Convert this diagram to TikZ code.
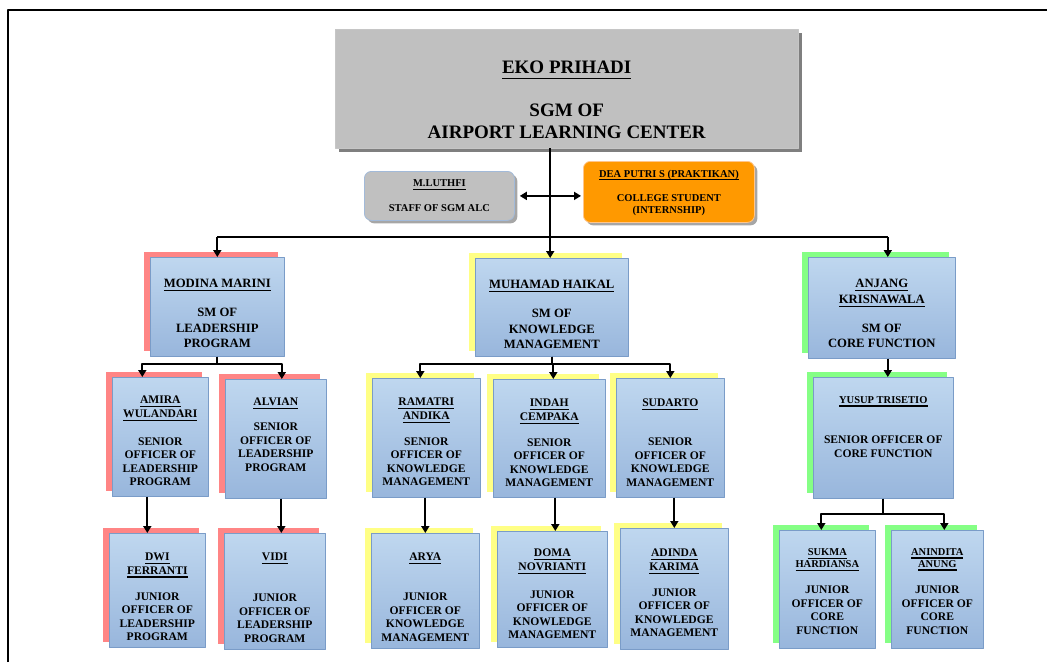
\documentclass[tikz,border=0pt]{standalone}
\usepackage{fontspec}
\setmainfont{Liberation Serif}
\usetikzlibrary{arrows.meta,shadows}
\definecolor{cardtop}{HTML}{BFD7EF}
\definecolor{cardbot}{HTML}{98B6DC}
\definecolor{cardline}{HTML}{7A9CC8}
\definecolor{shpink}{HTML}{FF8585}
\definecolor{shyellow}{HTML}{FFFF85}
\definecolor{shgreen}{HTML}{85FF85}
\definecolor{headgray}{HTML}{C0C0C0}
\definecolor{shgray}{HTML}{7F7F7F}
\definecolor{internorange}{HTML}{FF9900}
\newcommand{\fbig}{\fontsize{19}{22}\selectfont\bfseries}
\newcommand{\fmid}{\fontsize{12.7}{15.5}\selectfont\bfseries}
\newcommand{\fsm}{\fontsize{11.6}{13.5}\selectfont\bfseries}
\newcommand{\fxs}{\fontsize{10.5}{12}\selectfont\bfseries}
% underlined name
\newcommand{\nameline}[1]{\leavevmode\setbox0\hbox{#1}\rlap{\rule[-0.28em]{\wd0}{1.2pt}}\box0}
% width, height, top gap, name, gap, title
\newcommand{\cardin}[6]{\parbox[t][#2][t]{#1}{\centering\vspace*{#3}#4\par\vspace{#5}#6\par}}

\begin{document}
\begin{tikzpicture}[x=1pt, y=-1pt, line join=round,
		card/.style={draw=cardline, line width=0.6pt, top color=cardtop, bottom color=cardbot, inner sep=0pt, anchor=north west, font=\fsm},
		pinkcard/.style={card, general shadow={fill=shpink, shadow xshift=-6pt, shadow yshift=5pt}},
		yellowcard/.style={card, general shadow={fill=shyellow, shadow xshift=-6pt, shadow yshift=5pt}},
		greencard/.style={card, general shadow={fill=shgreen, shadow xshift=-6pt, shadow yshift=5pt}},
		headbox/.style={fill=headgray, draw=gray!45, inner sep=0pt, anchor=north west, font=\fbig, general shadow={fill=shgray, shadow xshift=4pt, shadow yshift=-4pt}},
		staffbox/.style={rounded corners=7pt, line width=0.8pt, inner sep=0pt, anchor=north west, font=\fxs, general shadow={fill=black!35, shadow xshift=3pt, shadow yshift=-3pt}},
		arr/.style={line width=2pt, -{Triangle[length=7pt,width=8pt]}},
		dbl/.style={line width=2pt, {Triangle[length=7pt,width=8pt]}-{Triangle[length=7pt,width=8pt]}},
		bus/.style={line width=2pt}]
	\useasboundingbox (0,0) rectangle (1047,662);
	\draw[line width=1.6pt] (8,662) -- (8,10) -- (1047,10);
	% --- top
	\node[headbox] (sgm) at (335,29) {\cardin{463pt}{119pt}{31.7pt}{\nameline{EKO PRIHADI}}{21pt}{SGM OF\\AIRPORT LEARNING CENTER}};
	\node[staffbox, fill=headgray, draw=cardline!70] (luthfi) at (364,171) {\cardin{150pt}{49pt}{8.5pt}{\nameline{M.LUTHFI}}{12.5pt}{STAFF OF SGM ALC}};
	\node[staffbox, fill=internorange, draw=orange!45] (dea) at (583,161) {\cardin{171pt}{61pt}{8.5pt}{\nameline{DEA PUTRI S (PRAKTIKAN)}}{12.5pt}{COLLEGE STUDENT\\(INTERNSHIP)}};
	% --- SM
	\node[pinkcard, font=\fmid] (modina) at (150,257) {\cardin{134pt}{99pt}{22pt}{\nameline{MODINA MARINI}}{13.5pt}{SM OF\\LEADERSHIP\\PROGRAM}};
	\node[yellowcard, font=\fmid] (haikal) at (475,258) {\cardin{153pt}{98pt}{22pt}{\nameline{MUHAMAD HAIKAL}}{13.5pt}{SM OF\\KNOWLEDGE\\MANAGEMENT}};
	\node[greencard, font=\fmid] (anjang) at (808,257) {\cardin{147pt}{101pt}{22pt}{\nameline{ANJANG}\\\nameline{KRISNAWALA}}{13.5pt}{SM OF\\CORE FUNCTION}};
	% --- senior officers
	\node[pinkcard] (amira) at (112,377) {\cardin{96pt}{119pt}{19pt}{\nameline{AMIRA}\\\nameline{WULANDARI}}{14.5pt}{SENIOR\\OFFICER OF\\LEADERSHIP\\PROGRAM}};
	\node[pinkcard] (alvian) at (225,379) {\cardin{101pt}{119pt}{19pt}{\nameline{ALVIAN}}{11.5pt}{SENIOR\\OFFICER OF\\LEADERSHIP\\PROGRAM}};
	\node[yellowcard] (ramatri) at (372,378) {\cardin{108pt}{119pt}{20pt}{\nameline{RAMATRI}\\\nameline{ANDIKA}}{12.5pt}{SENIOR\\OFFICER OF\\KNOWLEDGE\\MANAGEMENT}};
	\node[yellowcard] (indah) at (493,379) {\cardin{112pt}{118pt}{20pt}{\nameline{INDAH}\\\nameline{CEMPAKA}}{12.5pt}{SENIOR\\OFFICER OF\\KNOWLEDGE\\MANAGEMENT}};
	\node[yellowcard] (sudarto) at (616,378) {\cardin{108pt}{119pt}{21pt}{\nameline{SUDARTO}}{25.5pt}{SENIOR\\OFFICER OF\\KNOWLEDGE\\MANAGEMENT}};
	\node[greencard] (yusup) at (813,377) {\cardin{140pt}{121pt}{19.5pt}{{\fxs\nameline{YUSUP TRISETIO}\par}}{26.5pt}{SENIOR OFFICER OF\\CORE FUNCTION}};
	% --- junior officers
	\node[pinkcard] (dwi) at (109,533) {\cardin{96pt}{114pt}{20pt}{\nameline{DWI}\\\nameline{FERRANTI}}{12.5pt}{JUNIOR\\OFFICER OF\\LEADERSHIP\\PROGRAM}};
	\node[pinkcard] (vidi) at (224,533) {\cardin{101pt}{116pt}{20pt}{\nameline{VIDI}}{27.5pt}{JUNIOR\\OFFICER OF\\LEADERSHIP\\PROGRAM}};
	\node[yellowcard] (arya) at (371,533) {\cardin{108pt}{115pt}{20pt}{\nameline{ARYA}}{26.5pt}{JUNIOR\\OFFICER OF\\KNOWLEDGE\\MANAGEMENT}};
	\node[yellowcard] (doma) at (497,531) {\cardin{110pt}{116pt}{18pt}{\nameline{DOMA}\\\nameline{NOVRIANTI}}{14.5pt}{JUNIOR\\OFFICER OF\\KNOWLEDGE\\MANAGEMENT}};
	\node[yellowcard] (adinda) at (620,528) {\cardin{108pt}{121pt}{21pt}{\nameline{ADINDA}\\\nameline{KARIMA}}{12.5pt}{JUNIOR\\OFFICER OF\\KNOWLEDGE\\MANAGEMENT}};
	\node[greencard] (sukma) at (779,530) {\cardin{96pt}{118pt}{18.5pt}{{\fxs\nameline{SUKMA}\\\nameline{HARDIANSA}\par}}{12.5pt}{JUNIOR\\OFFICER OF\\CORE\\FUNCTION}};
	\node[greencard] (anindita) at (891,530) {\cardin{92pt}{118pt}{18.5pt}{{\fxs\nameline{ANINDITA}\\\nameline{ANUNG}\par}}{12.5pt}{JUNIOR\\OFFICER OF\\CORE\\FUNCTION}};
	% --- connectors
	\coordinate (trunk) at (550,237);
	\draw[arr] ([xshift=-16.5pt]sgm.south) -- ([xshift=-16.5pt]sgm.south |- haikal.north);
	\draw[dbl, shorten <=5pt, shorten >=2pt] (luthfi.east) -- (luthfi.east -| dea.west);
	\draw[bus] (modina.north |- trunk) -- ([xshift=6pt]anjang.north |- trunk);
	\draw[arr] (modina.north |- trunk) -- (modina.north);
	\draw[arr] ([xshift=6pt]anjang.north |- trunk) -- ([xshift=6pt]anjang.north);
	\draw[arr] (modina.south) -- ++(0,7) -| ([xshift=-18pt]amira.north);
	\draw[arr] (modina.south) -- ++(0,7) -| ([xshift=6pt]alvian.north);
	\draw[arr] (haikal.south) -- ++(0,7) -| ([xshift=-6pt]ramatri.north);
	\draw[arr] (haikal.south) -- ++(0,7) -| ([xshift=4pt]indah.north);
	\draw[arr] (haikal.south) -- ++(0,7) -| (sudarto.north);
	\draw[arr] ([xshift=6pt]anjang.south) -- ([xshift=6pt]anjang.south |- yusup.north);
	\draw[arr] ([xshift=-13pt]amira.south) -- ([xshift=-13pt]amira.south |- dwi.north);
	\draw[arr] ([xshift=5.5pt]alvian.south) -- ([xshift=5.5pt]alvian.south |- vidi.north);
	\draw[arr] ([xshift=-1pt]ramatri.south) -- ([xshift=-1pt]ramatri.south |- arya.north);
	\draw[arr] ([xshift=6pt]indah.south) -- ([xshift=6pt]indah.south |- doma.north);
	\draw[arr] ([xshift=4pt]sudarto.south) -- ([xshift=4pt]sudarto.south |- adinda.north);
	\draw[arr] (yusup.south) -- ++(0,15) -| ([xshift=-6pt]sukma.north);
	\draw[arr] (yusup.south) -- ++(0,15) -| ([xshift=7pt]anindita.north);
\end{tikzpicture}
\end{document}
